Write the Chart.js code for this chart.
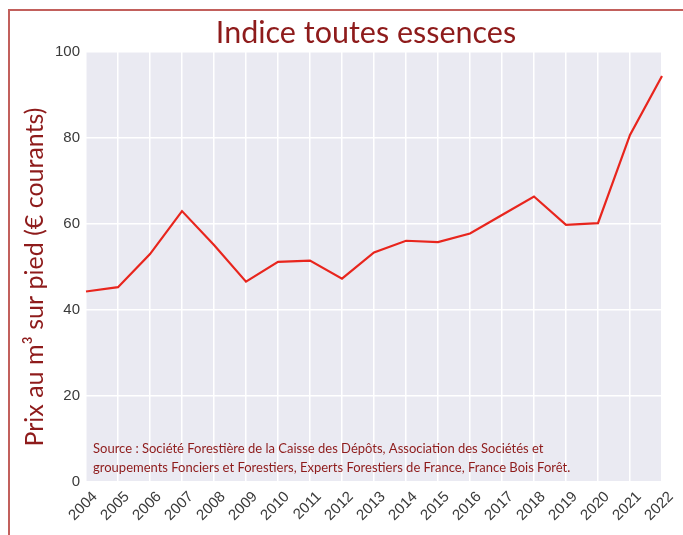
<!DOCTYPE html>
<html>
<head>
<meta charset="utf-8">
<script src="https://cdn.jsdelivr.net/npm/chart.js@4"></script>
<style>
    body { margin: 0; background: #fff; }
    #wrap { position: relative; width: 683px; height: 535px; }
    #frame {
        position: absolute; left: 8px; top: 9px; right: -4px; bottom: -4px;
        border-left: 2px solid #c2605c; border-top: 2px solid #c2605c;
    }
    canvas { position: absolute; left: 0; top: 0; }
</style>
</head>
<body>
<div id="wrap">
    <div id="frame"></div>
    <canvas id="indexChart" width="683" height="535"></canvas>
</div>
<script>
// Data
const years = ['2004', '2005', '2006', '2007', '2008', '2009', '2010', '2011', '2012', '2013',
               '2014', '2015', '2016', '2017', '2018', '2019', '2020', '2021', '2022'];
const priceIndex = [44.3, 45.3, 53.0, 63.0, 55.1, 46.6, 51.2, 51.5, 47.3, 53.4,
                    56.1, 55.8, 57.8, 62.1, 66.4, 59.8, 60.2, 80.7, 94.4];
const yTicks = [0, 20, 40, 60, 80, 100];

const titleText = 'Indice toutes essences';
const yTitle = 'Prix au m\u00b3 sur pied (\u20ac courants)';
const sourceLines = [
    'Source : Soci\u00e9t\u00e9 Foresti\u00e8re de la Caisse des D\u00e9p\u00f4ts, Association des Soci\u00e9t\u00e9s et',
    'groupements Fonciers et Forestiers, Experts Forestiers de France, France Bois For\u00eat.'
];

const darkRed = '#8e1b1b';

// grey plot background, title, y title and source note
const decorPlugin = {
    id: 'decor',
    beforeDraw(chart) {
        const { ctx, chartArea: a } = chart;
        ctx.save();
        ctx.fillStyle = '#eaeaf2';
        ctx.fillRect(a.left, a.top, a.right - a.left, a.bottom - a.top);
        ctx.restore();
    },
    afterDraw(chart) {
        const { ctx, chartArea: a } = chart;
        ctx.save();
        ctx.fillStyle = darkRed;
        ctx.font = '30.5px Lato';
        ctx.textAlign = 'center';
        ctx.textBaseline = 'alphabetic';
        ctx.fillText(titleText, 366, 43);

        // rotated axis title
        ctx.save();
        ctx.translate(35, 277);
        ctx.rotate(-Math.PI / 2);
        ctx.font = '25px Lato';
        ctx.textBaseline = 'middle';
        ctx.fillText(yTitle, 0, 0);
        ctx.restore();

        ctx.font = '13px Lato';
        ctx.textAlign = 'left';
        sourceLines.forEach((line, i) => {
            ctx.fillText(line, a.left + 7, 453 + i * 19);
        });
        ctx.restore();
    }
};

const ctx = document.getElementById('indexChart').getContext('2d');
new Chart(ctx, {
    type: 'line',
    data: {
        labels: years,
        datasets: [{
            data: priceIndex,
            borderColor: '#e8251d',
            borderWidth: 2.2,
            pointRadius: 0,
            tension: 0
        }]
    },
    options: {
        responsive: false,
        animation: false,
        layout: { padding: { left: 0, top: 52, right: 21, bottom: 0 } },
        plugins: {
            legend: { display: false },
            tooltip: { enabled: false }
        },
        scales: {
            x: {
                offset: false,
                grid: { color: '#ffffff', lineWidth: 1.5, drawTicks: false },
                border: { display: false },
                ticks: {
                    color: '#3a3a3a',
                    font: { family: 'Liberation Sans', size: 15 },
                    maxRotation: 45,
                    minRotation: 45,
                    padding: 6,
                    labelOffset: 9,
                    autoSkip: false
                },
                afterFit(scale) { scale.height = 53; }
            },
            y: {
                min: 0,
                max: 100,
                grid: { color: '#ffffff', lineWidth: 1.5, drawTicks: false },
                border: { display: false },
                afterBuildTicks(scale) {
                    scale.ticks = yTicks.map(v => ({ value: v }));
                },
                ticks: {
                    color: '#3a3a3a',
                    font: { family: 'Liberation Sans', size: 15 },
                    padding: 6
                },
                afterFit(scale) { scale.width = 86; }
            }
        }
    },
    plugins: [decorPlugin]
});
</script>
</body>
</html>
